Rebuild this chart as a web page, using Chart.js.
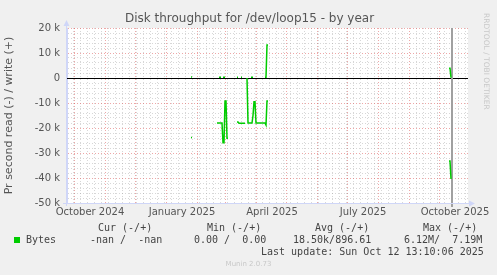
<!DOCTYPE html>
<html>
<head>
<meta charset="utf-8">
<script src="https://cdn.jsdelivr.net/npm/chart.js@4"></script>
<style>
  html, body { margin: 0; padding: 0; background: #f0f0f0; }
  #wrap { position: relative; width: 497px; height: 275px; overflow: hidden; }
  #chart { position: absolute; left: 0; top: 0; }
  .title { position: absolute; left: 1px; width: 497px; top: 11px; text-align: center; font-family: "DejaVu Sans", sans-serif; font-size: 12px; line-height: 14px; color: #555; }
  .mono { position: absolute; font-family: "DejaVu Sans Mono", monospace; font-size: 10px; line-height: 12px; color: #444; white-space: pre; }
  .sq { position: absolute; left: 14px; top: 237px; width: 6px; height: 6px; background: #00cc00; }
  .munin { position: absolute; left: 0; width: 497px; top: 259px; text-align: center; font-family: "DejaVu Sans", sans-serif; font-size: 7px; line-height: 10px; color: #c8c8c8; }
  .rrd { position: absolute; left: 482px; top: 13px; writing-mode: vertical-rl; font-family: "DejaVu Sans", sans-serif; font-size: 7.5px; color: #c8c8c8; white-space: pre; }
</style>
</head>
<body>
<div id="wrap">
  <canvas id="chart" width="497" height="275"></canvas>
  <div class="title">Disk throughput for /dev/loop15 - by year</div>
  <div class="rrd">RRDTOOL / TOBI OETIKER</div>
  <div class="mono" style="left:98px;top:222px">Cur (-/+)</div>
  <div class="mono" style="left:207px;top:222px">Min (-/+)</div>
  <div class="mono" style="left:315px;top:222px">Avg (-/+)</div>
  <div class="mono" style="left:423px;top:222px">Max (-/+)</div>
  <div class="sq"></div>
  <div class="mono" style="left:26px;top:234px">Bytes</div>
  <div class="mono" style="left:90px;top:234px">-nan /  -nan</div>
  <div class="mono" style="left:194px;top:234px">0.00 /  0.00</div>
  <div class="mono" style="left:293px;top:234px">18.50k/896.61</div>
  <div class="mono" style="left:404px;top:234px">6.12M/  7.19M</div>
  <div class="mono" style="left:261px;top:246px">Last update: Sun Oct 12 13:10:06 2025</div>
  <div class="munin">Munin 2.0.73</div>
</div>
<script>
// days counted from 1 October 2024
const days = [117, 118, 119,
  143, 144, 145, 146, 147, 148, 149, 150, 151, 152, 153, 154, 155,
  163, 164, 165, 166, 167, 168, 169, 170, 171, 172,
  173, 174, 175, 176, 177, 178, 179, 180, 181, 182, 183, 184, 185, 186, 187, 188, 189, 190, 191, 192, 193, 194, 195,
  375, 376, 377];

// read, plotted as negative
const readBytes = [-23800, -23800, null,
  -18000, -18000, -18000, -18000, -18000, -18000, -25900, -25900, -9200, -9200, -24100, -24100, null,
  -17600, -17600, -18100, -18100, -18100, -18100, -18100, -18100, -18100, null,
  0, -18000, -18000, -18000, -18000, -18000, -15000, -9500, -9500, -18000, -18000, -18000, -18000, -18000, -18000, -18000, -18000, -18000, -18000, -18800, -9200, -9200, null,
  -33200, -33200, -40400];

const writeBytes = [400, 400, null,
  null, null, 300, 300, 300, null, 300, 300, 300, null, null, null, null,
  300, 300, null, null, 300, 300, null, null, null, null,
  null, null, null, null, 300, 300, 300, null, null, null, null, null, null, null, null, null, null, null, 300, 300, 13200, 13200, null,
  3900, 3900, 100];

const xLabels = ['October 2024', 'January 2025', 'April 2025', 'July 2025', 'October 2025'];
const xLabelDays = [16, 108, 198, 289, 381];
const monthStarts = [0, 31, 61, 92, 123, 151, 182, 212, 243, 273, 304, 335, 365];
const nowDay = 377.5;

const xMin = -7, xMax = 394;

var minorDays = [];
for (var d = -1; d <= xMax; d += 7) {
  if (monthStarts.indexOf(d) < 0) minorDays.push(d);
}
var xTicks = minorDays.concat(monthStarts, xLabelDays).sort(function(a, b){ return a - b; });

const major = 'rgba(222, 79, 79, 0.5)';
const minor = 'rgba(140, 140, 140, 0.35)';
const axisColor = '#CFD6F8';

const munin = {
  id: 'munin',
  beforeDraw(chart) {
    const ctx = chart.ctx, a = chart.chartArea;
    ctx.save();
    ctx.fillStyle = '#ffffff';
    ctx.fillRect(a.left, a.top, a.right - a.left, a.bottom - a.top);
    ctx.restore();
  },
  beforeDatasetsDraw(chart) {
    const ctx = chart.ctx, a = chart.chartArea;
    const y0 = chart.scales.y.getPixelForValue(0);
    const xn = chart.scales.x.getPixelForValue(nowDay);
    ctx.save();
    ctx.strokeStyle = '#000';
    ctx.lineWidth = 1;
    ctx.beginPath();
    ctx.moveTo(a.left, Math.round(y0) + 0.5);
    ctx.lineTo(a.right, Math.round(y0) + 0.5);
    ctx.stroke();
    ctx.strokeStyle = '#a0a0a0';
    ctx.lineWidth = 2;
    ctx.beginPath();
    ctx.moveTo(Math.round(xn), a.top);
    ctx.lineTo(Math.round(xn), a.bottom + 4);
    ctx.stroke();
    ctx.restore();
  },
  afterDatasetsDraw(chart) {
    const ctx = chart.ctx, a = chart.chartArea;
    // axis lines and arrows
    ctx.save();
    ctx.strokeStyle = axisColor;
    ctx.fillStyle = axisColor;
    ctx.lineWidth = 1;
    ctx.beginPath();
    ctx.moveTo(a.left - 0.5, a.bottom + 3);
    ctx.lineTo(a.left - 0.5, a.top - 4);
    ctx.moveTo(a.left - 4, a.bottom + 0.5);
    ctx.lineTo(a.right + 3, a.bottom + 0.5);
    ctx.stroke();
    ctx.beginPath();
    ctx.moveTo(a.left - 3.5, a.top - 2);
    ctx.lineTo(a.left + 2.5, a.top - 2);
    ctx.lineTo(a.left - 0.5, a.top - 8);
    ctx.closePath();
    ctx.fill();
    ctx.beginPath();
    ctx.moveTo(a.right + 1, a.bottom - 2.5);
    ctx.lineTo(a.right + 1, a.bottom + 3.5);
    ctx.lineTo(a.right + 7, a.bottom + 0.5);
    ctx.closePath();
    ctx.fill();
    ctx.restore();
  }
};

function series(values) {
  return days.map(function(d, i){ return {x: d, y: values[i]}; });
}

new Chart(document.getElementById('chart'), {
  type: 'line',
  data: {
    datasets: [{
      label: 'Bytes',
      data: series(readBytes),
      borderColor: '#00cc00',
      borderWidth: 1.5,
      pointRadius: 0,
      tension: 0,
      spanGaps: false
    }, {
      label: 'Bytes',
      data: series(writeBytes),
      borderColor: '#00cc00',
      borderWidth: 1.5,
      pointRadius: 0,
      tension: 0,
      spanGaps: false
    }]
  },
  options: {
    responsive: false,
    animation: false,
    layout: { padding: { left: 0, right: 29, top: 28, bottom: 52 } },
    plugins: {
      legend: { display: false },
      tooltip: { enabled: false }
    },
    scales: {
      x: {
        type: 'linear',
        min: xMin,
        max: xMax,
        afterBuildTicks: function(axis) {
          axis.ticks = xTicks.map(function(v){ return {value: v}; });
        },
        afterFit: function(s) { s.height = 20; },
        ticks: {
          autoSkip: false,
          maxRotation: 0,
          padding: 3,
          color: '#555',
          font: { family: 'DejaVu Sans', size: 10 },
          callback: function(value) {
            var i = xLabelDays.indexOf(value);
            return i >= 0 ? xLabels[i] : '';
          }
        },
        grid: {
          drawTicks: false,
          lineWidth: 1,
          color: function(c) {
            var v = c.tick.value;
            if (xLabelDays.indexOf(v) >= 0) return 'rgba(0,0,0,0)';
            return monthStarts.indexOf(v) >= 0 ? major : minor;
          }
        },
        border: { color: axisColor, width: 1, dash: [1, 2] }
      },
      y: {
        min: -50000,
        max: 20000,
        afterFit: function(s) { s.width = 67; },
        ticks: {
          stepSize: 2000,
          autoSkip: false,
          padding: 7,
          color: '#555',
          font: { family: 'DejaVu Sans', size: 10 },
          callback: function(value) {
            if (value % 10000 !== 0) return '';
            return value === 0 ? '0' : (value / 1000) + ' k';
          }
        },
        grid: {
          drawTicks: false,
          lineWidth: 1,
          color: function(c) {
            var v = c.tick.value;
            if (v === 0 || v === -50000) return 'rgba(0,0,0,0)';
            return v % 10000 === 0 ? major : minor;
          }
        },
        border: { color: axisColor, width: 1, dash: [1, 2] },
        title: {
          display: true,
          text: 'Pr second read (-) / write (+)',
          color: '#555',
          font: { family: 'DejaVu Sans', size: 11 },
          padding: { top: 3, bottom: 0 }
        }
      }
    }
  },
  plugins: [munin]
});
</script>
</body>
</html>
